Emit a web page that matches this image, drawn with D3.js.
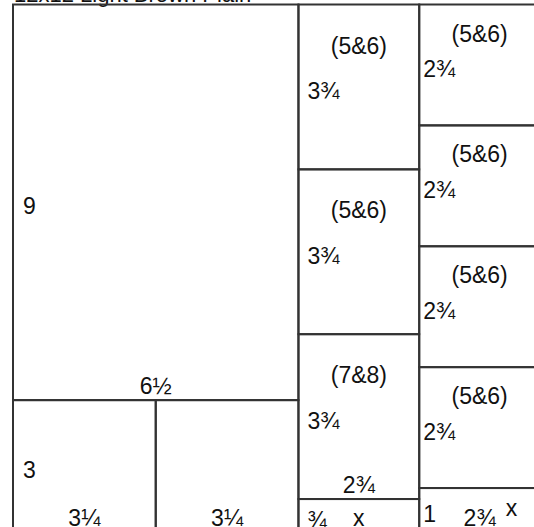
<!DOCTYPE html>
<html>
<head>
<meta charset="utf-8">
<script src="https://cdn.jsdelivr.net/npm/d3@7"></script>
<style>
  body { margin: 0; background: #fff; }
  svg { display: block; }
  text { font-family: "Liberation Sans", Arial, sans-serif; fill: #111; }
</style>
</head>
<body>
<svg id="cut_sheet"></svg>
<script>
// 12 x 12 sheet, pieces in inches (x, y = top left corner)
const sheetTitle = "12x12 Light Brown Plain"
const sheetSize = 12
const pieceX = [0, 0, 3.25, 6.5, 6.5, 6.5, 6.5, 9.25, 9.25, 9.25, 9.25, 9.25]
const pieceY = [0, 9, 9, 0, 3.75, 7.5, 11.25, 0, 2.75, 5.5, 8.25, 11]
const pieceW = [6.5, 3.25, 3.25, 2.75, 2.75, 2.75, 2.75, 2.75, 2.75, 2.75, 2.75, 2.75]
const pieceH = [9, 3, 3, 3.75, 3.75, 3.75, 0.75, 2.75, 2.75, 2.75, 2.75, 1]
const pieceNames = ["", "", "", "(5&6)", "(5&6)", "(7&8)", "", "(5&6)", "(5&6)", "(5&6)", "(5&6)", ""]
const heightLabels = ["9", "3", "", "3¾", "3¾", "3¾", "¾", "2¾", "2¾", "2¾", "2¾", "1"]
const widthLabels = ["6½", "3¼", "3¼", "", "", "2¾", "x", "", "", "", "", "2¾"]
const extraMarks = ["", "", "", "", "", "", "", "", "", "", "", "x"]

const pieces = pieceX.map((x, i) => ({
    x: x, y: pieceY[i], w: pieceW[i], h: pieceH[i],
    name: pieceNames[i], hLabel: heightLabels[i], wLabel: widthLabels[i], mark: extraMarks[i]
}))

const SVG = d3.select("#cut_sheet")
const Width = 534
const Height = 527
SVG.attr("width", Width).attr("height", Height)

const xscale = d3.scaleLinear()
    .domain([0, sheetSize])
    .range([13, 540])

const yscale = d3.scaleLinear()
    .domain([0, sheetSize])
    .range([4.5, 532])

const fontSize = 23

SVG.append("text")
    .text(sheetTitle)
    .attr("x", 14)
    .attr("y", 2)
    .style("font-size", "22px")

let Block = SVG.selectAll("g.piece")
    .data(pieces)
    .join("g")
    .attr("class", "piece")

Block.append("rect")
    .attr("x", d => xscale(d.x))
    .attr("y", d => yscale(d.y))
    .attr("width", d => xscale(d.x + d.w) - xscale(d.x))
    .attr("height", d => yscale(d.y + d.h) - yscale(d.y))
    .style("fill", "none")
    .style("stroke", "#333")
    .style("stroke-width", 2)

// order name, e.g. (5&6)
Block.filter(d => d.name)
    .append("text")
    .text(d => d.name)
    .attr("x", d => xscale(d.x + d.w / 2))
    .attr("y", d => yscale(d.y) + (d.x >= 9 ? 37 : 49))
    .style("text-anchor", "middle")
    .style("font-size", fontSize + "px")

// height on the left side
Block.filter(d => d.hLabel)
    .append("text")
    .text(d => d.hLabel)
    .attr("x", d => xscale(d.x) + (d.x >= 9 ? 4 : (d.x >= 6 ? 9 : 10)))
    .attr("y", d => (yscale(d.y) + yscale(d.y + d.h)) / 2 + 12)
    .style("font-size", fontSize + "px")

// width along the bottom
Block.filter(d => d.wLabel)
    .append("text")
    .text(d => d.wLabel)
    .attr("x", d => xscale(d.x + d.w / 2))
    .attr("y", d => yscale(d.y + d.h) - 6)
    .style("text-anchor", "middle")
    .style("font-size", fontSize + "px")

Block.filter(d => d.mark)
    .append("text")
    .text(d => d.mark)
    .attr("x", d => xscale(d.x + d.w / 2) + 32)
    .attr("y", d => yscale(d.y + d.h) - 16)
    .style("text-anchor", "middle")
    .style("font-size", fontSize + "px")
</script>
</body>
</html>
